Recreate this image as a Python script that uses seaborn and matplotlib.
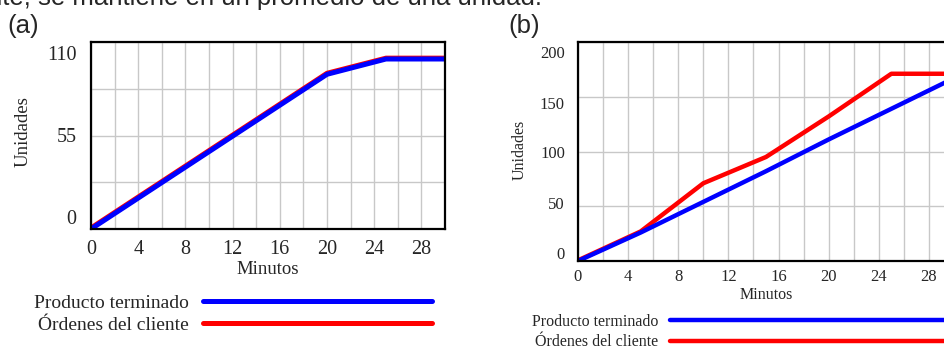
import seaborn as sns
import matplotlib.pyplot as plt
import matplotlib.transforms as mtransforms
import numpy as np

# datos
minutos_a = [0, 20, 25, 30]
producto_a = [0, 91, 100, 100]
ordenes_a = [0.6, 91.6, 100.5, 100.5]

minutos_b = [0, 5, 10, 15, 20, 25, 30]
producto_b = [0, 26, 54, 82, 111, 139, 167]
ordenes_b = [0.6, 27, 71, 95, 132, 171, 171]

yticks_a = [0, 55, 110]
yticks_b = [0, 50, 100, 150, 200]
xticks = [0, 4, 8, 12, 16, 20, 24, 28]

sns.set_style("white")
plt.rcParams['font.family'] = ['Liberation Serif', 'DejaVu Serif']

W, H = 944, 347
fig = plt.figure(figsize=(9.44, 3.47), dpi=100)


def px_axes(left, top, right, bottom):
    return fig.add_axes([left / W, 1 - bottom / H, (right - left) / W, (bottom - top) / H])


def style_axes(ax, ymax, ystep, yticks, yoffs, fs_tick, fs_lab, xpad, ypad):
    ax.set_xlim(0, 30)
    ax.set_ylim(0, ymax)
    ax.set_xticks(xticks)
    ax.set_xticks(np.arange(0, 31, 2), minor=True)
    ax.set_yticks(yticks)
    ax.set_yticks(np.arange(0, ymax + 0.1, ystep), minor=True)
    ax.grid(True, which='both', color='#c8c8c8', linewidth=1.0)
    ax.set_axisbelow(True)
    ax.tick_params(which='both', length=0)
    ax.tick_params(axis='x', labelsize=fs_tick, pad=xpad)
    ax.tick_params(axis='y', labelsize=fs_tick, pad=ypad)
    for s in ax.spines.values():
        s.set_color('black')
        s.set_linewidth(1.6)
    # desplazamiento vertical de las etiquetas (pixeles, positivo = hacia abajo)
    for lab, dy in zip(ax.get_yticklabels(), yoffs):
        lab.set_transform(lab.get_transform() +
                          mtransforms.ScaledTranslation(0, -dy / 100, fig.dpi_scale_trans))
    ax.set_xlabel('Minutos', fontsize=fs_lab)
    ax.set_ylabel('Unidades', fontsize=fs_lab)


# ---------- (a)
ax1 = px_axes(91, 42, 445, 229)
sns.lineplot(x=minutos_a, y=ordenes_a, ax=ax1, color='#ff0000', linewidth=3.6,
             label='Órdenes del cliente')
sns.lineplot(x=minutos_a, y=producto_a, ax=ax1, color='#0000ff', linewidth=3.6,
             label='Producto terminado')
style_axes(ax1, 110, 27.5, yticks_a, [-12, 0, 11], 14.5, 13.5, 8, 10.5)
ax1.xaxis.set_label_coords(0.5, (229 - 269) / 187)
ax1.xaxis.label.set_va('center')
ax1.yaxis.set_label_coords((22.7 - 91) / 354, 0.52)
ax1.yaxis.label.set_va('center')
h, l = ax1.get_legend_handles_labels()
ax1.legend([h[1], h[0]], [l[1], l[0]], markerfirst=False, frameon=False,
           loc='center left', bbox_to_anchor=(34 / W, 1 - 314.3 / H),
           bbox_transform=fig.transFigure, borderaxespad=0, borderpad=0,
           fontsize=14, handlelength=11.8, handletextpad=0.72, labelspacing=0.22)

# ---------- (b)
ax2 = px_axes(578, 42, 954, 261)
sns.lineplot(x=minutos_b, y=ordenes_b, ax=ax2, color='#ff0000', linewidth=3.2,
             label='Órdenes del cliente')
sns.lineplot(x=minutos_b, y=producto_b, ax=ax2, color='#0000ff', linewidth=3.2,
             label='Producto terminado')
style_axes(ax2, 200, 50, yticks_b, [-8, -3, 1, 6, 10], 12, 11.5, 6, 9.4)
ax2.xaxis.set_label_coords((766.7 - 578) / 376, (261 - 294.7) / 219)
ax2.xaxis.label.set_va('center')
ax2.yaxis.set_label_coords((520 - 578) / 376, 0.507)
ax2.yaxis.label.set_va('center')
h, l = ax2.get_legend_handles_labels()
ax2.legend([h[1], h[0]], [l[1], l[0]], markerfirst=False, frameon=False,
           loc='center left', bbox_to_anchor=(532 / W, 1 - 332 / H),
           bbox_transform=fig.transFigure, borderaxespad=0, borderpad=0,
           fontsize=11.5, handlelength=19, handletextpad=0.75, labelspacing=0.3)

# textos en sans
fig.text(7 / W, 1 - 26 / H, '(a)', family='Liberation Sans', fontsize=18.5, va='center', ha='left')
fig.text(508 / W, 1 - 26 / H, '(b)', family='Liberation Sans', fontsize=18.5, va='center', ha='left')
fig.text(-12 / W, 1 - 4.5 / H, 'nte, se mantiene en un promedio de una unidad.',
         family='Liberation Sans', fontsize=18.5, va='baseline', ha='left')

fig.savefig('out.png', dpi=100)
